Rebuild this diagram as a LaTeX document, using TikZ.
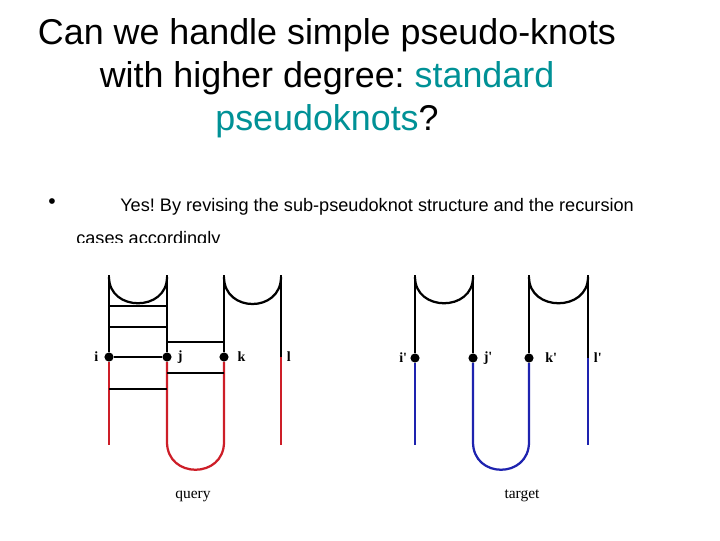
\documentclass[tikz,border=0pt]{standalone}
\usepackage{fontspec}
\setmainfont{Liberation Sans}
\newfontfamily\labelfont{Liberation Serif}
\usetikzlibrary{positioning, calc}
\definecolor{queryred}{RGB}{205,30,40}
\definecolor{targetblue}{RGB}{30,35,175}
\definecolor{titleteal}{RGB}{0,145,150}
\frenchspacing

\begin{document}
\begin{tikzpicture}
    [x=0.025cm, y=-0.025cm,
    dotnode/.style={circle, fill=black, inner sep=0pt, minimum size=6.5pt},
    letternode/.style={font=\labelfont\bfseries\fontsize{10}{11}\selectfont, inner sep=1pt},
    strand/.style={line width=1.6pt},
    rung/.style={line width=1pt},
    boldrung/.style={line width=1.7pt},]
    \useasboundingbox (0,0) rectangle (720,540);

    %Title and text
    \node[align=center, font=\fontsize{25.5}{30.5}\selectfont] (title) at (327,78)
        {Can we handle simple pseudo-knots\\with higher degree: \textcolor{titleteal}{standard}\\\textcolor{titleteal}{pseudoknots}?};
    \node[font=\fontsize{15}{15}\selectfont] (bullet) at (52,204) {\textbullet};
    \node[anchor=base west, inner sep=0pt, font=\fontsize{12.9}{14}\selectfont] (yes) at (120,211)
        {Yes! By revising the sub-pseudoknot structure and the recursion};
    \begin{scope}
        \clip (60,220) rectangle (320,242);
        \node[anchor=base west, inner sep=0pt, font=\fontsize{12.9}{14}\selectfont] (cases) at (76,244) {cases accordingly};
    \end{scope}

    %Query
    \node[dotnode] (i) at (109,357) {};
    \node[dotnode] (j) at (167,357) {};
    \node[dotnode] (k) at (224,357) {};
    \coordinate (l) at (281,357);
    \node[letternode, left=3pt of i] {i};
    \node[letternode, right=3pt of j] {j};
    \node[letternode, right=5pt of k] {k};
    \node[letternode, right=3pt of l] {l};

    \draw[strand] (109,275) -- (i) (167,275) -- (j) (224,275) -- (k) (281,275) -- (l);
    \draw[strand] (109,277) .. controls (109,312) and (167,312) .. (167,277);
    \draw[strand] (224,277) .. controls (224,313) and (281,313) .. (281,277);
    \draw[strand, queryred] (i) -- (109,445);
    \draw[strand, queryred] (l) -- (281,445);
    \draw[strand, queryred] (j) -- (167,442) .. controls (167,479) and (224,479) .. (224,442) -- (k);

    \draw[rung] (109,306) -- (167,306);
    \draw[boldrung] (109,327) -- (167,327);
    \draw[rung] (167,342) -- (224,342);
    \draw[boldrung] (i) -- (j);
    \draw[rung] (167,373) -- (224,373);
    \draw[rung] (109,389) -- (167,389);

    %Target
    \node[dotnode] (i') at (415,358) {};
    \node[dotnode] (j') at (473,358) {};
    \node[dotnode] (k') at (529,358) {};
    \coordinate (l') at (588,358);
    \node[letternode, left=1pt of i'] {i'};
    \node[letternode, right=3pt of j'] {j'};
    \node[letternode, right=7pt of k'] {k'};
    \node[letternode, right=3pt of l'] {l'};

    \draw[strand] (415,275) -- (i') (473,275) -- (j') (529,275) -- (k') (588,275) -- (l');
    \draw[strand] (415,277) .. controls (415,312) and (473,312) .. (473,277);
    \draw[strand] (529,277) .. controls (529,312) and (588,312) .. (588,277);
    \draw[strand, targetblue] (i') -- (415,445);
    \draw[strand, targetblue] (l') -- (588,445);
    \draw[strand, targetblue] (j') -- (473,442) .. controls (473,479) and (529,479) .. (529,442) -- (k');

    %Captions
    \node[font=\labelfont\fontsize{11}{12}\selectfont] (query) at (193,496) {query};
    \node[font=\labelfont\fontsize{11}{12}\selectfont] (target) at (522,496) {target};
\end{tikzpicture}
\end{document}
